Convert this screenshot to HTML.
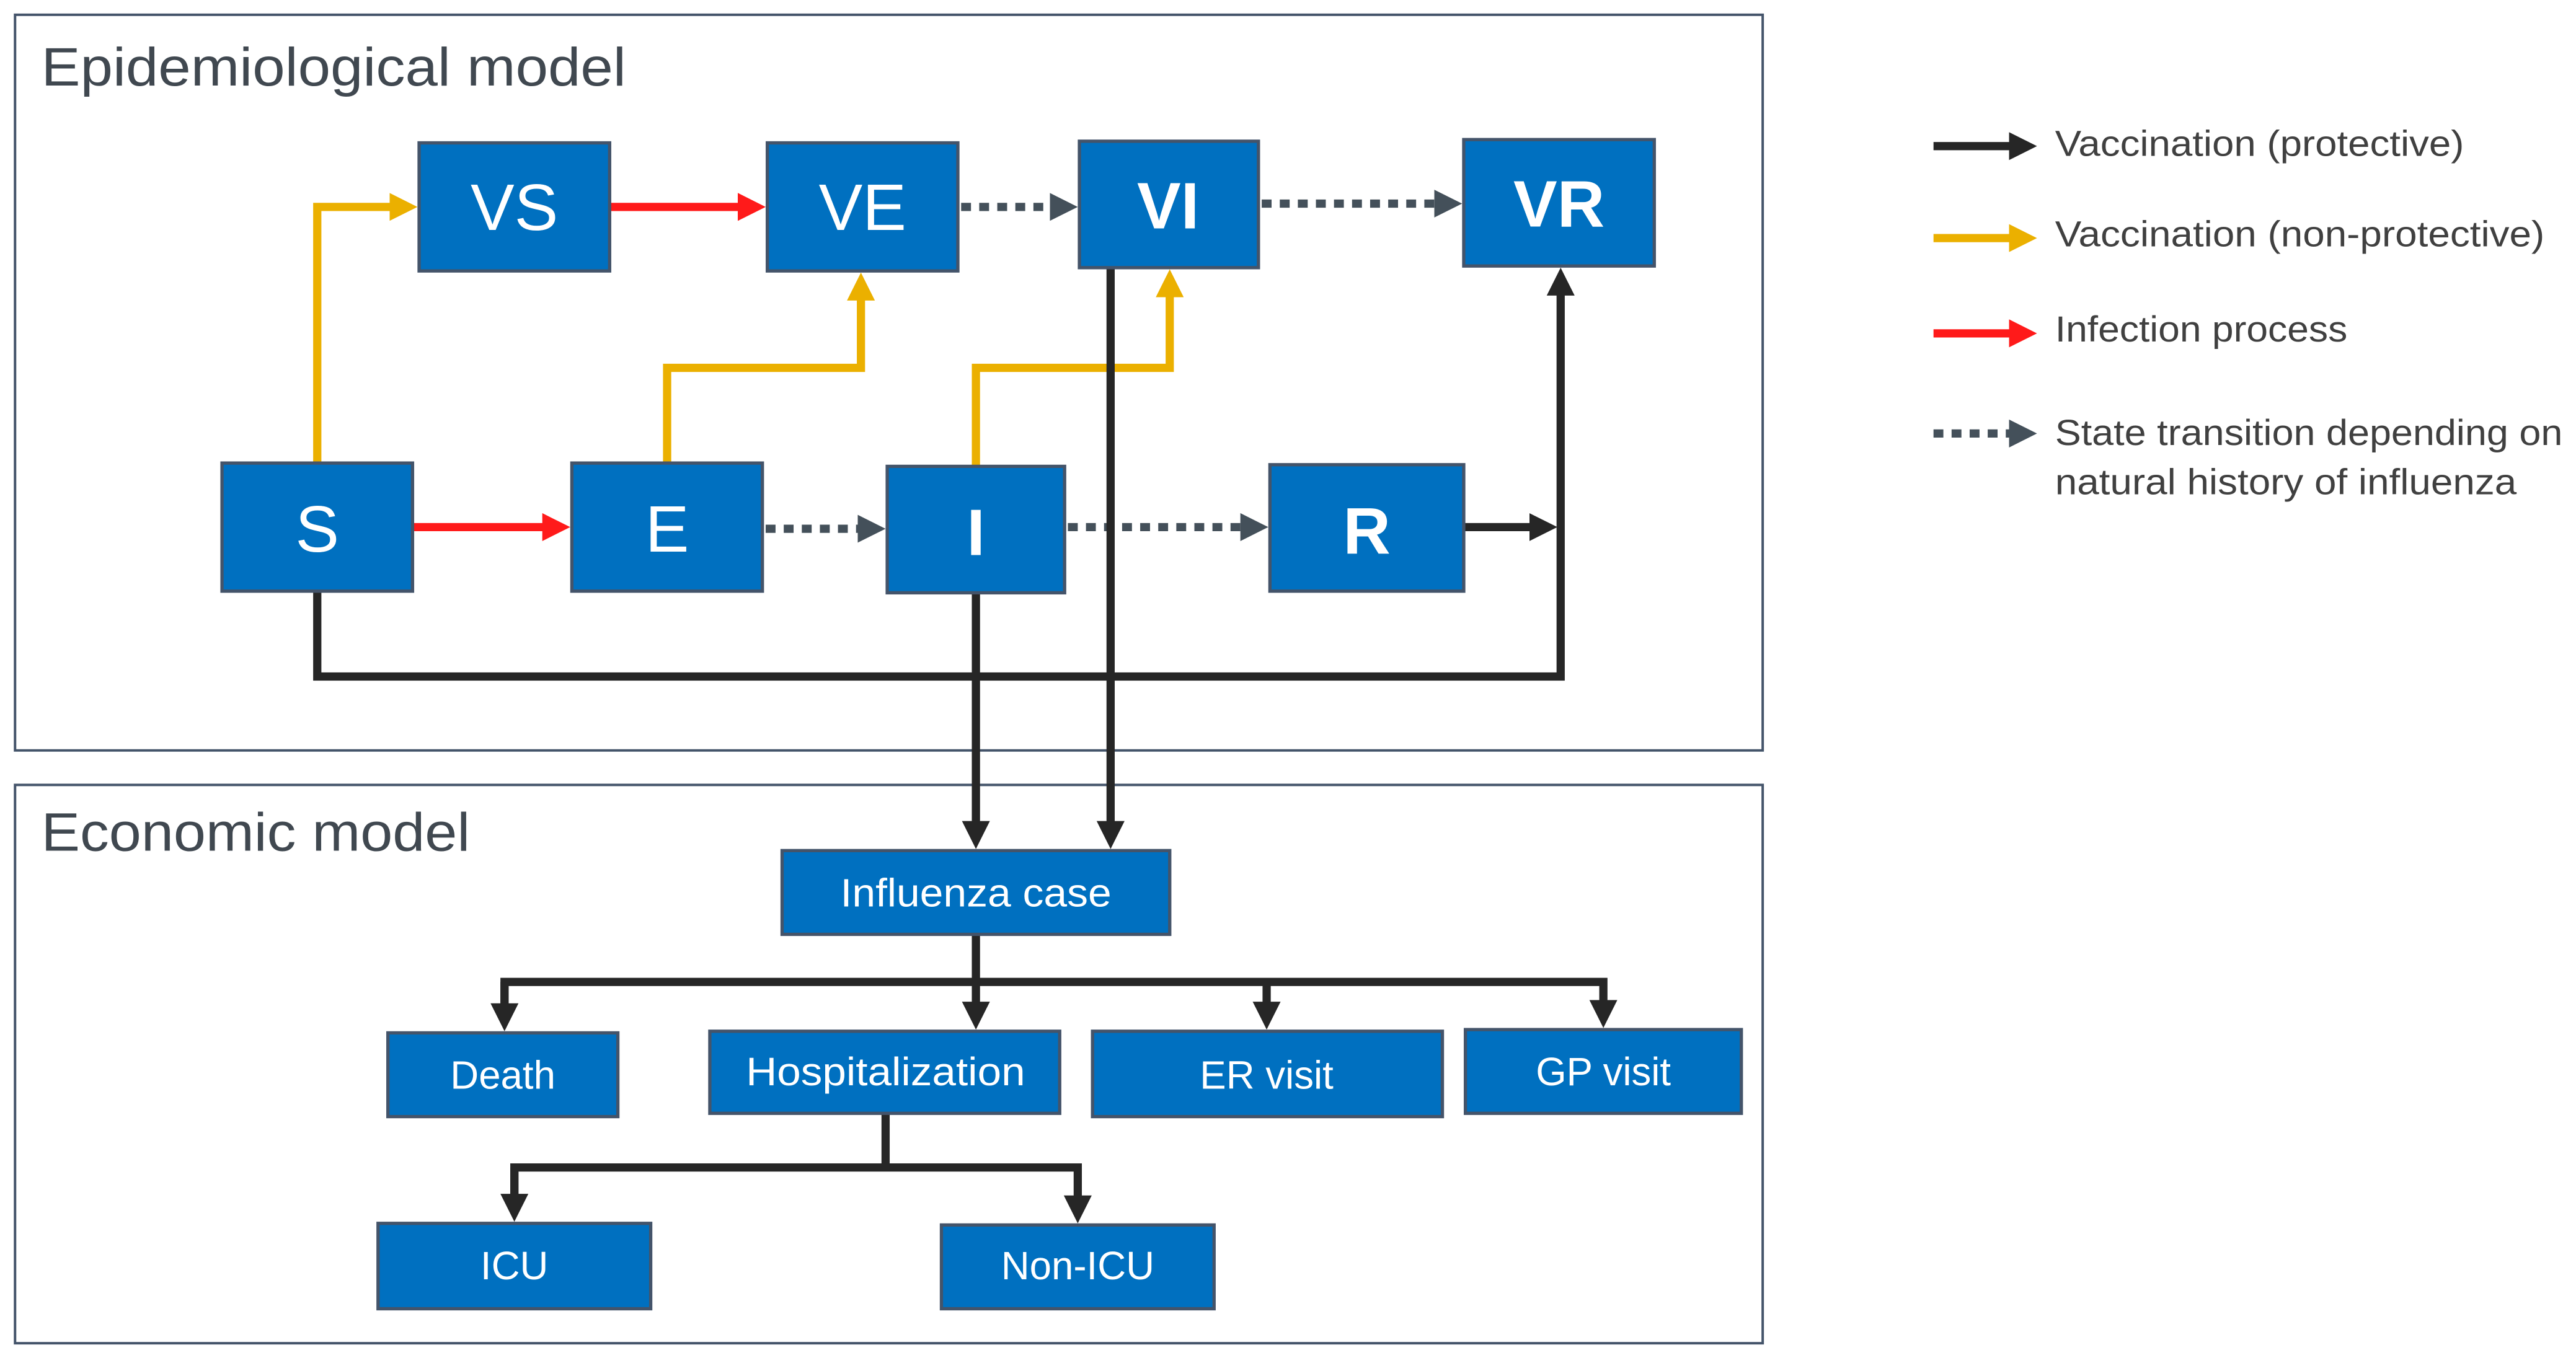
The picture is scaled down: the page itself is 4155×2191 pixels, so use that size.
<!DOCTYPE html>
<html><head><meta charset="utf-8"><style>
html,body{margin:0;padding:0;background:#fff;}
svg{display:block;}
text{font-family:"Liberation Sans",sans-serif;}
</style></head><body>
<svg width="4155" height="2191" viewBox="0 0 1568 827" xmlns="http://www.w3.org/2000/svg">
<defs>
<marker id="ak" markerWidth="4" markerHeight="4" refX="0.6" refY="2" orient="auto" markerUnits="strokeWidth"><path d="M0,0.3 L3.4,2 L0,3.7 Z" fill="#262626"/></marker>
<marker id="ay" markerWidth="4" markerHeight="4" refX="0.6" refY="2" orient="auto" markerUnits="strokeWidth"><path d="M0,0.3 L3.4,2 L0,3.7 Z" fill="#EBB000"/></marker>
<marker id="ar" markerWidth="4" markerHeight="4" refX="0.6" refY="2" orient="auto" markerUnits="strokeWidth"><path d="M0,0.3 L3.4,2 L0,3.7 Z" fill="#FF1A1A"/></marker>
<marker id="ag" markerWidth="4" markerHeight="4" refX="0.6" refY="2" orient="auto" markerUnits="strokeWidth"><path d="M0,0.3 L3.4,2 L0,3.7 Z" fill="#44505A"/></marker>
</defs>
<rect x="9" y="9" width="1064" height="448" fill="none" stroke="#44546A" stroke-width="1.5"/>
<rect x="9" y="478" width="1064" height="340" fill="none" stroke="#44546A" stroke-width="1.5"/>
<text x="25" y="52" font-size="33" fill="#404850" textLength="356" lengthAdjust="spacingAndGlyphs">Epidemiological model</text>
<text x="25" y="518" font-size="33" fill="#404850" textLength="261" lengthAdjust="spacingAndGlyphs">Economic model</text>

<g fill="none" stroke-width="5">
<polyline points="193,282 193,126 240,126" stroke="#EBB000" marker-end="url(#ay)"/>
<polyline points="406,282 406,224 524,224 524,180" stroke="#EBB000" marker-end="url(#ay)"/>
<polyline points="594,284 594,224 712,224 712,178" stroke="#EBB000" marker-end="url(#ay)"/>
<line x1="371" y1="126" x2="452" y2="126" stroke="#FF1A1A" marker-end="url(#ar)"/>
<line x1="251" y1="321" x2="333" y2="321" stroke="#FF1A1A" marker-end="url(#ar)"/>
<line x1="585" y1="126" x2="642" y2="126" stroke="#44505A" stroke-dasharray="6,5" marker-end="url(#ag)"/>
<line x1="768" y1="124" x2="876" y2="124" stroke="#44505A" stroke-dasharray="6,5" marker-end="url(#ag)"/>
<line x1="466" y1="322" x2="525" y2="322" stroke="#44505A" stroke-dasharray="6,5" marker-end="url(#ag)"/>
<line x1="650" y1="321" x2="758" y2="321" stroke="#44505A" stroke-dasharray="6,5" marker-end="url(#ag)"/>
<line x1="891" y1="321" x2="934" y2="321" stroke="#262626" marker-end="url(#ak)"/>
<polyline points="193,360 193,412 950,412 950,177" stroke="#262626" marker-end="url(#ak)"/>
<line x1="676" y1="163" x2="676" y2="503" stroke="#262626" marker-end="url(#ak)"/>
<line x1="594" y1="361" x2="594" y2="503" stroke="#262626" marker-end="url(#ak)"/>
<polyline points="594,569 594,598" stroke="#262626"/>
<polyline points="307,614 307,598 976,598 976,612" stroke="#262626" marker-end="url(#ak)"/>
<line x1="307" y1="598" x2="307" y2="614" stroke="#262626" marker-end="url(#ak)"/>
<line x1="594" y1="598" x2="594" y2="613" stroke="#262626" marker-end="url(#ak)"/>
<line x1="771" y1="598" x2="771" y2="613" stroke="#262626" marker-end="url(#ak)"/>
<polyline points="539,678 539,711" stroke="#262626"/>
<polyline points="313,730 313,711 656,711 656,731" stroke="#262626" marker-end="url(#ak)"/>
<line x1="313" y1="711" x2="313" y2="730" stroke="#262626" marker-end="url(#ak)"/>
</g>

<g fill="#0070C0" stroke="#44546A" stroke-width="2">
<rect x="255" y="87" width="116" height="78"/>
<rect x="467" y="87" width="116" height="78"/>
<rect x="657" y="86" width="109" height="77"/>
<rect x="891" y="85" width="116" height="77"/>
<rect x="135" y="282" width="116" height="78"/>
<rect x="348" y="282" width="116" height="78"/>
<rect x="540" y="284" width="108" height="77"/>
<rect x="773" y="283" width="118" height="77"/>
<rect x="476" y="518" width="236" height="51"/>
<rect x="236" y="629" width="140" height="51"/>
<rect x="432" y="628" width="213" height="50"/>
<rect x="665" y="628" width="213" height="52"/>
<rect x="892" y="627" width="168" height="51"/>
<rect x="230" y="745" width="166" height="52"/>
<rect x="573" y="746" width="166" height="51"/>
</g>
<g fill="#fff" text-anchor="middle" font-size="40">
<text x="313" y="140">VS</text>
<text x="525" y="140">VE</text>
<text x="711" y="139" font-weight="bold">VI</text>
<text x="949" y="138" font-weight="bold">VR</text>
<text x="193" y="336">S</text>
<text x="406" y="336">E</text>
<text x="594" y="338" font-weight="bold">I</text>
<text x="832" y="337" font-weight="bold">R</text>
</g>
<g fill="#fff" text-anchor="middle" font-size="24">
<text x="594" y="552" textLength="165" lengthAdjust="spacingAndGlyphs">Influenza case</text>
<text x="306" y="663">Death</text>
<text x="539" y="661" textLength="170" lengthAdjust="spacingAndGlyphs">Hospitalization</text>
<text x="771" y="663">ER visit</text>
<text x="976" y="661">GP visit</text>
<text x="313" y="779">ICU</text>
<text x="656" y="779">Non-ICU</text>
</g>

<g fill="none" stroke-width="5">
<line x1="1177" y1="89" x2="1226" y2="89" stroke="#262626" marker-end="url(#ak)"/>
<line x1="1177" y1="145" x2="1226" y2="145" stroke="#EBB000" marker-end="url(#ay)"/>
<line x1="1177" y1="203" x2="1226" y2="203" stroke="#FF1A1A" marker-end="url(#ar)"/>
<line x1="1177" y1="264" x2="1226" y2="264" stroke="#44505A" stroke-dasharray="6,5" marker-end="url(#ag)"/>
</g>
<g fill="#404040" font-size="22">
<text x="1251" y="95" textLength="249" lengthAdjust="spacingAndGlyphs">Vaccination (protective)</text>
<text x="1251" y="150" textLength="298" lengthAdjust="spacingAndGlyphs">Vaccination (non-protective)</text>
<text x="1251" y="208" textLength="178" lengthAdjust="spacingAndGlyphs">Infection process</text>
<text x="1251" y="271" textLength="309" lengthAdjust="spacingAndGlyphs">State transition depending on</text>
<text x="1251" y="301" textLength="281" lengthAdjust="spacingAndGlyphs">natural history of influenza</text>
</g>
</svg>
</body></html>
